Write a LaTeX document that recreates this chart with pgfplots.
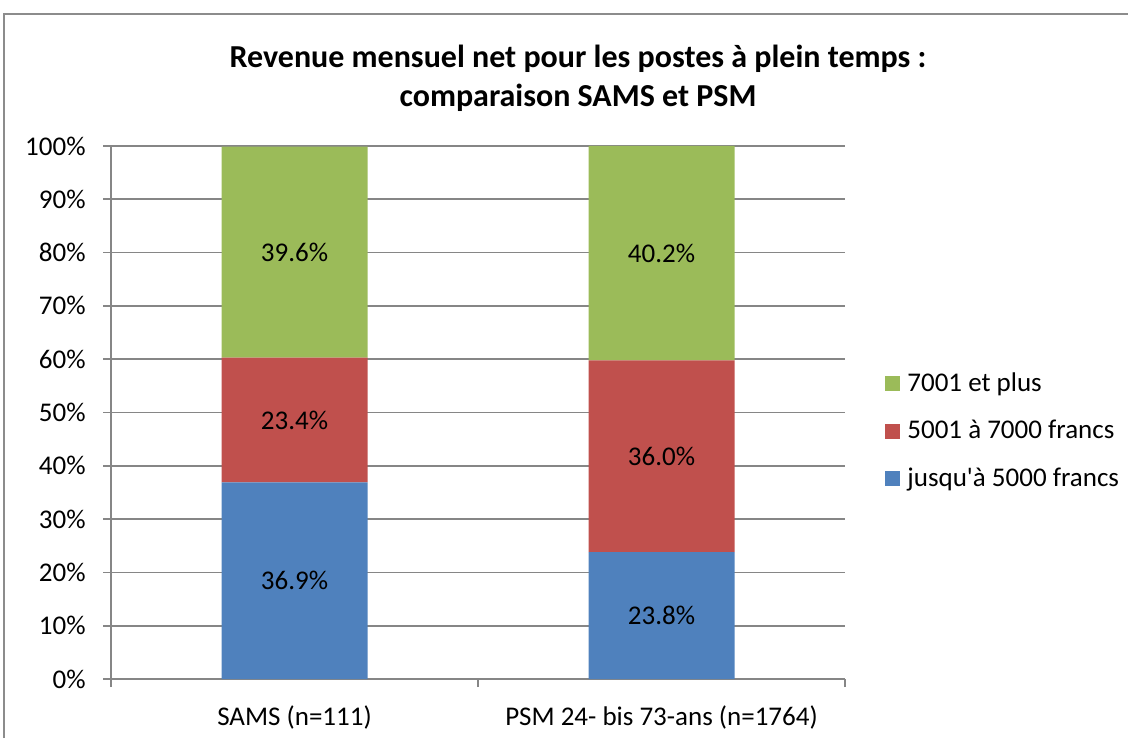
\documentclass[border=0pt]{standalone}
\usepackage{pgfplots}
\pgfplotsset{compat=1.18}
\usepackage{fontspec}
\setmainfont{Carlito}
\definecolor{cblue}{HTML}{4F81BD}
\definecolor{cred}{HTML}{C0504D}
\definecolor{cgreen}{HTML}{9BBB59}
\definecolor{gridgray}{HTML}{868686}
\definecolor{framegray}{HTML}{8C8C8C}
\begin{document}
\begin{tikzpicture}[x=1pt,y=1pt]
\useasboundingbox (0,0) rectangle (564,369);
\draw[framegray, line width=1pt] (2,0) -- (2,362) -- (564,362);
\node[font=\bfseries\fontsize{16}{19.5}\selectfont, align=center] at (289,330) {Revenue mensuel net pour les postes à plein temps :\\comparaison SAMS et PSM};
\begin{axis}[
  at={(55.5pt,29.5pt)}, anchor=south west,
  width=367pt, height=266.5pt, scale only axis,
  ybar stacked, bar width=73pt,
  xmin=-0.5, xmax=1.5, ymin=0, ymax=100,
  axis x line*=bottom, axis y line*=left,
  axis line style={gridgray, line width=0.8pt},
  ytick={0,10,...,100},
  yticklabels={0\%,10\%,20\%,30\%,40\%,50\%,60\%,70\%,80\%,90\%,100\%},
  ymajorgrids, grid style={gridgray, line width=0.8pt},
  tick align=outside, major tick length=4pt, minor tick length=4pt,
  tick style={gridgray, line width=0.8pt},
  xtick={0,1}, xticklabels={SAMS (n=111), PSM 24- bis 73-ans (n=1764)},
  major x tick style={draw=none},
  minor xtick={-0.5,0.5,1.5},
  xticklabel style={anchor=center, yshift=-15pt},
  yticklabel style={anchor=east, inner sep=0pt, xshift=-8.5pt},
  tick label style={font=\fontsize{13.5}{16}\selectfont},
  reverse legend,
  legend style={draw=none, at={(1,0.465)}, anchor=west, xshift=20pt,
    font=\fontsize{13.5}{16}\selectfont, row sep=10pt, column sep=2pt, inner sep=0pt,
    nodes={inner sep=1.5pt}},
  legend cell align=left,
]
\addplot[fill=cblue, draw=none, legend image code/.code={\fill[cblue] (0pt,-3.75pt) rectangle (7.5pt,3.75pt);}] coordinates {(0,36.9) (1,23.8)};
\addlegendentry{jusqu\textquotesingle à 5000 francs}
\addplot[fill=cred, draw=none, legend image code/.code={\fill[cred] (0pt,-3.75pt) rectangle (7.5pt,3.75pt);}] coordinates {(0,23.4) (1,36.0)};
\addlegendentry{5001 à 7000 francs}
\addplot[fill=cgreen, draw=none, legend image code/.code={\fill[cgreen] (0pt,-3.75pt) rectangle (7.5pt,3.75pt);}] coordinates {(0,39.6) (1,40.2)};
\addlegendentry{7001 et plus}
\end{axis}
\begin{axis}[
  at={(55.5pt,29.5pt)}, anchor=south west,
  width=367pt, height=266.5pt, scale only axis,
  xmin=-0.5, xmax=1.5, ymin=0, ymax=100, hide axis,
]
\addplot[draw=none, mark=none, nodes near coords, point meta=explicit symbolic,
  every node near coord/.style={anchor=center, font=\fontsize{13.5}{16}\selectfont, text=black}]
  coordinates {(0,18.45)[36.9\%] (0,48.6)[23.4\%] (0,80.1)[39.6\%]
               (1,11.9)[23.8\%] (1,41.8)[36.0\%] (1,79.9)[40.2\%]};
\end{axis}
\end{tikzpicture}
\end{document}
